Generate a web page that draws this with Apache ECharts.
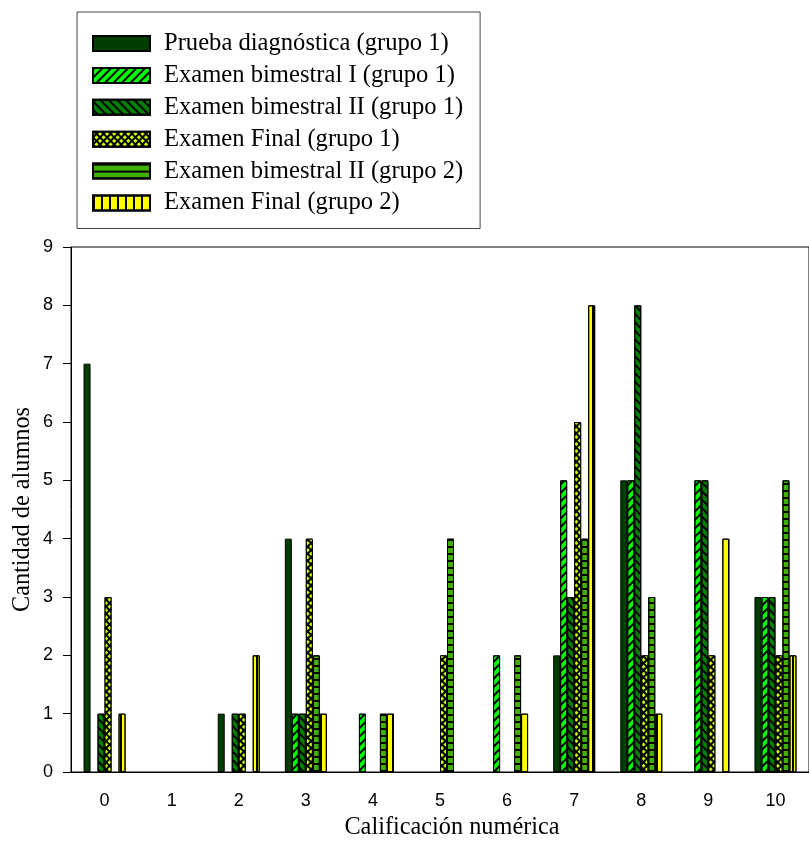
<!DOCTYPE html>
<html>
<head>
<meta charset="utf-8">
<script src="https://cdn.jsdelivr.net/npm/echarts@6/dist/echarts.min.js"></script>
<style>html,body{margin:0;padding:0;background:#fff;}#c{width:809px;height:845px;}</style>
</head>
<body>
<div id="c"></div>
<script>
const categories = ['0','1','2','3','4','5','6','7','8','9','10'];
const seriesNames = [
  'Prueba diagnóstica (grupo 1)',
  'Examen bimestral I (grupo 1)',
  'Examen bimestral II (grupo 1)',
  'Examen Final (grupo 1)',
  'Examen bimestral II (grupo 2)',
  'Examen Final (grupo 2)'
];
const pruebaG1 = [7,0,1,4,0,0,0,2,5,0,3];
const bim1G1   = [0,0,0,1,1,0,2,5,5,5,3];
const bim2G1   = [1,0,1,1,0,0,0,3,8,5,3];
const finalG1  = [3,0,1,4,0,2,0,6,2,2,2];
const bim2G2   = [0,0,0,2,1,4,2,4,3,0,5];
const finalG2  = [1,0,2,1,1,0,1,8,1,4,2];
const yTicks = [0,1,2,3,4,5,6,7,8,9];

const seriesData = [pruebaG1, bim1G1, bim2G1, finalG1, bim2G2, finalG2];
const styles = [
  {color:'#003d00'},
  {color:'#00ff00', decal:{symbol:'rect', symbolSize:1, color:'#000', dashArrayX:[1,0], dashArrayY:[1.6,3.6], rotation:-Math.PI/4}},
  {color:'#008000', decal:{symbol:'rect', symbolSize:1, color:'#000', dashArrayX:[1,0], dashArrayY:[1.6,3.6], rotation:Math.PI/4}},
  {color:'#000', decal:{symbol:'rect', symbolSize:1, color:'#ccff00', dashArrayX:[2.6,1.3], dashArrayY:[2.6,1.3], rotation:Math.PI/4}},
  {color:'#40b000', decal:{symbol:'rect', symbolSize:1, color:'#000', dashArrayX:[1,0], dashArrayY:[1.4,4.2], rotation:0}},
  {color:'#ffff00', decal:{symbol:'rect', symbolSize:1, color:'#000', dashArrayX:[1.4,5.6], dashArrayY:[1,0], rotation:0}}
];

const chart = echarts.init(document.getElementById('c'), null, {renderer:'canvas'});
const option = {
  backgroundColor:'#fff',
  animation:false,
  legend:{
    orient:'vertical', left:77, top:12,
    icon:'rect', itemWidth:57, itemHeight:15, itemGap:6.9,
    padding:[19,17,13,15],
    borderColor:'#444', borderWidth:1,
    textStyle:{fontFamily:'Liberation Serif', fontSize:24.6, lineHeight:24, color:'#000', padding:[0,0,0,9]},
    data:seriesNames
  },
  grid:{left:71, top:247, width:750, height:525, show:true, borderColor:'#000', borderWidth:1, backgroundColor:'transparent'},
  xAxis:{
    type:'category', data:categories,
    name:'Calificación numérica', nameLocation:'middle', nameGap:44, nameMoveOverlap:false,
    nameTextStyle:{fontFamily:'Liberation Serif', fontSize:24.3, color:'#000', padding:[0,0,0,24]},
    axisLine:{lineStyle:{color:'#000', width:1}},
    axisTick:{alignWithLabel:true, length:8, lineStyle:{color:'#000'}},
    axisLabel:{fontFamily:'Liberation Sans', fontSize:18, color:'#000', margin:20}
  },
  yAxis:{
    type:'value', min:0, max:9, interval:1,
    name:'Cantidad de alumnos', nameLocation:'middle', nameGap:36, nameMoveOverlap:false,
    nameTextStyle:{fontFamily:'Liberation Serif', fontSize:24.3, color:'#000'},
    axisLine:{show:true, lineStyle:{color:'#000', width:1}},
    axisTick:{show:true, length:8, lineStyle:{color:'#000'}},
    axisLabel:{fontFamily:'Liberation Sans', fontSize:18, color:'#000', margin:18,
      formatter:function(v){ return yTicks.indexOf(v) >= 0 ? String(v) : ''; }},
    splitLine:{show:false}
  },
  series: seriesNames.map(function(name, i){
    return {
      name:name, type:'bar',
      data:seriesData[i].map(function(v){ return v === 0 ? null : v; }),
      barWidth:7, barGap:'0%',
      itemStyle:Object.assign({borderColor:'#000', borderWidth:1}, styles[i])
    };
  })
};
chart.setOption(option);
</script>
</body>
</html>
